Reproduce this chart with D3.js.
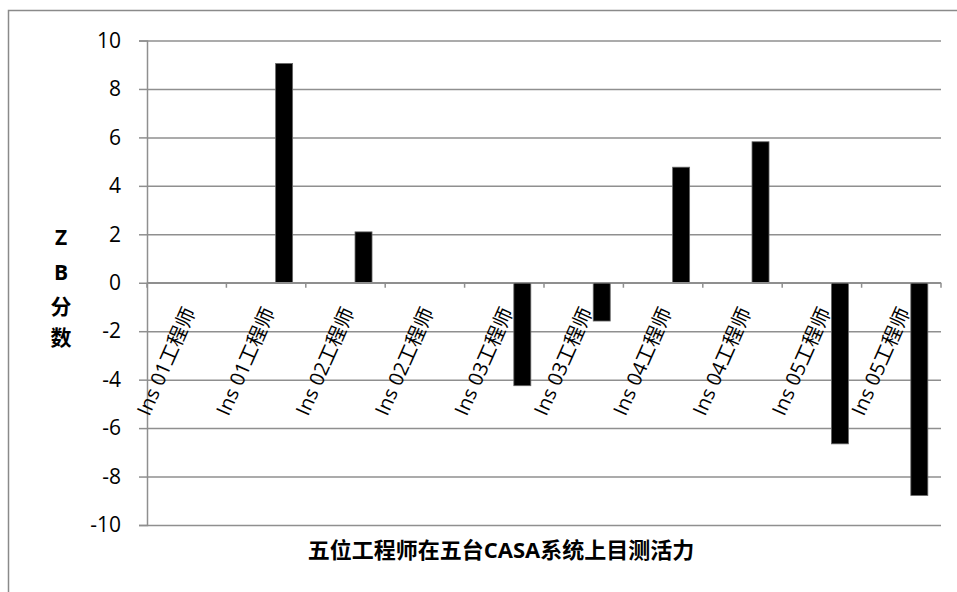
<!DOCTYPE html>
<html>
<head>
<meta charset="utf-8">
<script src="https://cdn.jsdelivr.net/npm/d3@7"></script>
<style>
  html, body { margin: 0; padding: 0; background: #fff; }
  svg { display: block; }
</style>
</head>
<body>
<svg id="chart" width="957" height="592"></svg>
<script>
// Engineer labels along the category axis (each engineer measured twice)
const categories = [
  "Ins 01工程师", "Ins 01工程师", "Ins 02工程师", "Ins 02工程师", "Ins 03工程师",
  "Ins 03工程师", "Ins 04工程师", "Ins 04工程师", "Ins 05工程师", "Ins 05工程师"
];
// Z-score per measurement (null = no bar)
const zScores = [null, 9.05, 2.1, null, -4.25, -1.58, 4.77, 5.82, -6.65, -8.78];
// Value-axis ticks
const yTicks = [-10, -8, -6, -4, -2, 0, 2, 4, 6, 8, 10];
const yAxisTitle = ["Z", "B", "分", "数"];
const xAxisTitle = "五位工程师在五台CASA系统上目测活力";

const svg = d3.select("#chart");
const W = 957, H = 592;
const plot = { left: 147, right: 941, top: 40.5, bottom: 525 };
const gridColor = "#8f8f8f";
const latin = "'Open Sans', 'Noto Sans CJK SC', sans-serif";

// Outer chart frame
svg.append("rect")
  .attr("x", 8.5).attr("y", 10.5)
  .attr("width", W + 20).attr("height", H + 20)
  .attr("fill", "#fff").attr("stroke", "#8a8a8a").attr("stroke-width", 1.5);

const x = d3.scaleBand()
  .domain(d3.range(categories.length))
  .range([plot.left, plot.right])
  .paddingInner(0).paddingOuter(0);

const y = d3.scaleLinear().domain([-10, 10]).range([plot.bottom, plot.top]);

// Horizontal gridlines with the value axis
const yAxis = d3.axisLeft(y)
  .tickValues(yTicks)
  .tickSize(8)
  .tickPadding(18)
  .tickFormat(d => String(d));

const gy = svg.append("g")
  .attr("transform", `translate(${plot.left},0)`)
  .call(yAxis);
gy.select(".domain").attr("stroke", gridColor).attr("stroke-width", 1.5);
gy.selectAll(".tick line")
  .attr("x2", -8)
  .attr("stroke", gridColor).attr("stroke-width", 1.5);
gy.selectAll(".tick")
  .append("line")
  .attr("x1", 0).attr("x2", plot.right - plot.left)
  .attr("stroke", gridColor).attr("stroke-width", 1.5);
gy.selectAll(".tick text")
  .attr("fill", "#000")
  .style("font-family", latin)
  .style("font-size", "21px");

// Bars
const bw = x.bandwidth();
svg.append("g")
  .selectAll("rect")
  .data(zScores.map((v, i) => ({ i, v })).filter(d => d.v !== null))
  .join("rect")
  .attr("x", d => x(d.i) + bw * 0.62)
  .attr("width", bw * 0.214)
  .attr("y", d => y(Math.max(0, d.v)))
  .attr("height", d => Math.abs(y(d.v) - y(0)))
  .attr("fill", "#000")
  .attr("stroke", "#666")
  .attr("stroke-width", 0.8);

// Category axis on the zero line
const gx = svg.append("g").attr("transform", `translate(0,${y(0)})`);
gx.append("line")
  .attr("x1", plot.left).attr("x2", plot.right)
  .attr("stroke", gridColor).attr("stroke-width", 1.5);
gx.selectAll("line.tick")
  .data(d3.range(categories.length + 1))
  .join("line")
  .attr("class", "tick")
  .attr("x1", i => plot.left + i * bw).attr("x2", i => plot.left + i * bw)
  .attr("y1", 0).attr("y2", 5)
  .attr("stroke", gridColor).attr("stroke-width", 1.5);
gx.selectAll("text")
  .data(categories)
  .join("text")
  .attr("transform", (d, i) => `translate(${x(i) + bw / 2 + 3},${26}) rotate(-66)`)
  .attr("text-anchor", "end")
  .attr("dy", "0.35em")
  .style("font-family", latin)
  .style("font-size", "20px")
  .attr("fill", "#000")
  .text(d => d);

// Stacked value-axis title
svg.append("g")
  .selectAll("text")
  .data(yAxisTitle)
  .join("text")
  .attr("x", 61)
  .attr("y", (d, i) => [238, 273, 307, 338][i])
  .attr("dy", "0.35em")
  .attr("text-anchor", "middle")
  .style("font-family", latin)
  .style("font-weight", "bold")
  .style("font-size", "21px")
  .text(d => d);

// Category-axis title
svg.append("text")
  .attr("x", 501)
  .attr("y", 550)
  .attr("dy", "0.35em")
  .attr("text-anchor", "middle")
  .style("font-family", latin)
  .style("font-weight", "bold")
  .style("font-size", "22px")
  .text(xAxisTitle);
</script>
</body>
</html>
